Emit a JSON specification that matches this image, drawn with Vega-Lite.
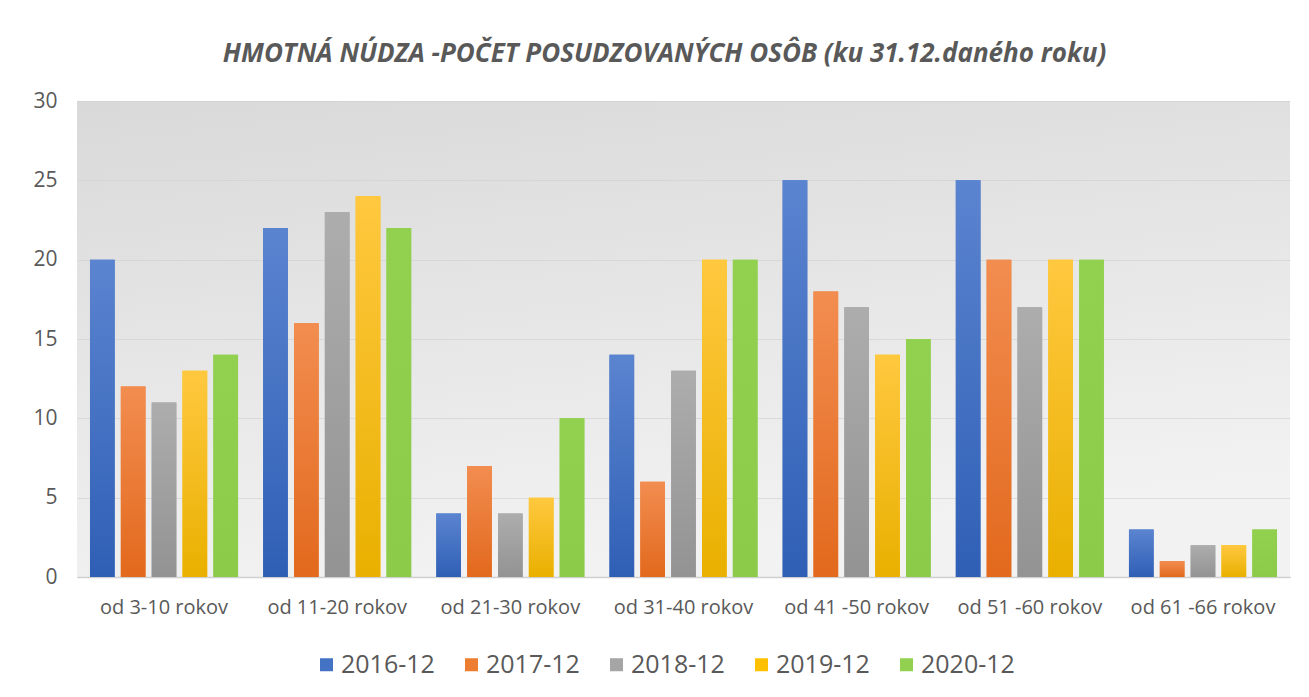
{
  "$schema": "https://vega.github.io/schema/vega-lite/v6.json",
  "width": 1213,
  "height": 476,
  "autosize": {"type": "none"},
  "padding": {"left": 77, "top": 101, "right": 19, "bottom": 120},
  "background": "white",
  "title": {
    "text": "HMOTNÁ NÚDZA -POČET POSUDZOVANÝCH OSÔB (ku 31.12.daného roku)",
    "font": "Open Sans",
    "fontSize": 26,
    "fontStyle": "italic",
    "fontWeight": "bold",
    "color": "#595959",
    "anchor": "middle",
    "offset": 23,
    "dx": -19
  },
  "config": {
    "view": {
      "stroke": null,
      "fill": {
        "gradient": "linear",
        "x1": 0, "y1": 0, "x2": 0.3, "y2": 1,
        "stops": [
          {"offset": 0, "color": "#D9D9D9"},
          {"offset": 1, "color": "#F2F2F2"}
        ]
      }
    },
    "font": "Open Sans"
  },
  "data": {
    "values": [
      {"group": "od 3-10 rokov", "year": "2016-12", "value": 20},
      {"group": "od 3-10 rokov", "year": "2017-12", "value": 12},
      {"group": "od 3-10 rokov", "year": "2018-12", "value": 11},
      {"group": "od 3-10 rokov", "year": "2019-12", "value": 13},
      {"group": "od 3-10 rokov", "year": "2020-12", "value": 14},
      {"group": "od 11-20 rokov", "year": "2016-12", "value": 22},
      {"group": "od 11-20 rokov", "year": "2017-12", "value": 16},
      {"group": "od 11-20 rokov", "year": "2018-12", "value": 23},
      {"group": "od 11-20 rokov", "year": "2019-12", "value": 24},
      {"group": "od 11-20 rokov", "year": "2020-12", "value": 22},
      {"group": "od 21-30 rokov", "year": "2016-12", "value": 4},
      {"group": "od 21-30 rokov", "year": "2017-12", "value": 7},
      {"group": "od 21-30 rokov", "year": "2018-12", "value": 4},
      {"group": "od 21-30 rokov", "year": "2019-12", "value": 5},
      {"group": "od 21-30 rokov", "year": "2020-12", "value": 10},
      {"group": "od 31-40 rokov", "year": "2016-12", "value": 14},
      {"group": "od 31-40 rokov", "year": "2017-12", "value": 6},
      {"group": "od 31-40 rokov", "year": "2018-12", "value": 13},
      {"group": "od 31-40 rokov", "year": "2019-12", "value": 20},
      {"group": "od 31-40 rokov", "year": "2020-12", "value": 20},
      {"group": "od 41 -50 rokov", "year": "2016-12", "value": 25},
      {"group": "od 41 -50 rokov", "year": "2017-12", "value": 18},
      {"group": "od 41 -50 rokov", "year": "2018-12", "value": 17},
      {"group": "od 41 -50 rokov", "year": "2019-12", "value": 14},
      {"group": "od 41 -50 rokov", "year": "2020-12", "value": 15},
      {"group": "od 51 -60 rokov", "year": "2016-12", "value": 25},
      {"group": "od 51 -60 rokov", "year": "2017-12", "value": 20},
      {"group": "od 51 -60 rokov", "year": "2018-12", "value": 17},
      {"group": "od 51 -60 rokov", "year": "2019-12", "value": 20},
      {"group": "od 51 -60 rokov", "year": "2020-12", "value": 20},
      {"group": "od 61 -66 rokov", "year": "2016-12", "value": 3},
      {"group": "od 61 -66 rokov", "year": "2017-12", "value": 1},
      {"group": "od 61 -66 rokov", "year": "2018-12", "value": 2},
      {"group": "od 61 -66 rokov", "year": "2019-12", "value": 2},
      {"group": "od 61 -66 rokov", "year": "2020-12", "value": 3}
    ]
  },
  "encoding": {
    "x": {
      "field": "group",
      "type": "nominal",
      "sort": null,
      "scale": {"paddingInner": 0.145, "paddingOuter": 0.075},
      "axis": {
        "title": null,
        "labelAngle": 0,
        "labelFontSize": 20,
        "labelColor": "#595959",
        "labelPadding": 20,
        "ticks": false,
        "domainColor": "#D0D0D0",
        "domainWidth": 1.5
      }
    },
    "xOffset": {
      "field": "year",
      "type": "nominal",
      "scale": {"paddingInner": 0.2, "paddingOuter": 0}
    },
    "y": {
      "field": "value",
      "type": "quantitative",
      "scale": {"domain": [0, 30]},
      "axis": {
        "title": null,
        "values": [0, 5, 10, 15, 20, 25, 30],
        "labelFontSize": 21,
        "labelColor": "#595959",
        "labelPadding": 20,
        "ticks": false,
        "domain": false,
        "gridColor": "#CFCFCF",
        "gridOpacity": 0.6
      }
    }
  },
  "layer": [
    {
      "mark": {"type": "bar"},
      "encoding": {
        "color": {
          "field": "year",
          "type": "nominal",
          "scale": {
            "domain": ["2016-12", "2017-12", "2018-12", "2019-12", "2020-12"],
            "range": ["#4472C4", "#ED7D31", "#A5A5A5", "#FFC000", "#92D050"]
          },
          "legend": {
            "title": null,
            "orient": "none",
            "legendX": 237,
            "legendY": 551,
            "direction": "horizontal",
            "labelFontSize": 25,
            "labelColor": "#595959",
            "symbolType": "square",
            "symbolSize": 169,
            "symbolStrokeWidth": 0,
            "columnPadding": 24,
            "labelOffset": 2
          }
        }
      }
    },
    {
      "transform": [{"filter": "datum.year === '2016-12'"}],
      "mark": {"type": "bar", "fill": {"gradient": "linear", "x1": 0, "y1": 0, "x2": 0, "y2": 1, "stops": [{"offset": 0, "color": "#5B84D0"}, {"offset": 1, "color": "#2F5FB5"}]}}
    },
    {
      "transform": [{"filter": "datum.year === '2017-12'"}],
      "mark": {"type": "bar", "fill": {"gradient": "linear", "x1": 0, "y1": 0, "x2": 0, "y2": 1, "stops": [{"offset": 0, "color": "#F28D50"}, {"offset": 1, "color": "#E2691D"}]}}
    },
    {
      "transform": [{"filter": "datum.year === '2018-12'"}],
      "mark": {"type": "bar", "fill": {"gradient": "linear", "x1": 0, "y1": 0, "x2": 0, "y2": 1, "stops": [{"offset": 0, "color": "#ADADAD"}, {"offset": 1, "color": "#939393"}]}}
    },
    {
      "transform": [{"filter": "datum.year === '2019-12'"}],
      "mark": {"type": "bar", "fill": {"gradient": "linear", "x1": 0, "y1": 0, "x2": 0, "y2": 1, "stops": [{"offset": 0, "color": "#FFC83F"}, {"offset": 1, "color": "#E9B000"}]}}
    },
    {
      "transform": [{"filter": "datum.year === '2020-12'"}],
      "mark": {"type": "bar", "fill": {"gradient": "linear", "x1": 0, "y1": 0, "x2": 0, "y2": 1, "stops": [{"offset": 0, "color": "#92D050"}, {"offset": 1, "color": "#8CCB4A"}]}}
    }
  ]
}
